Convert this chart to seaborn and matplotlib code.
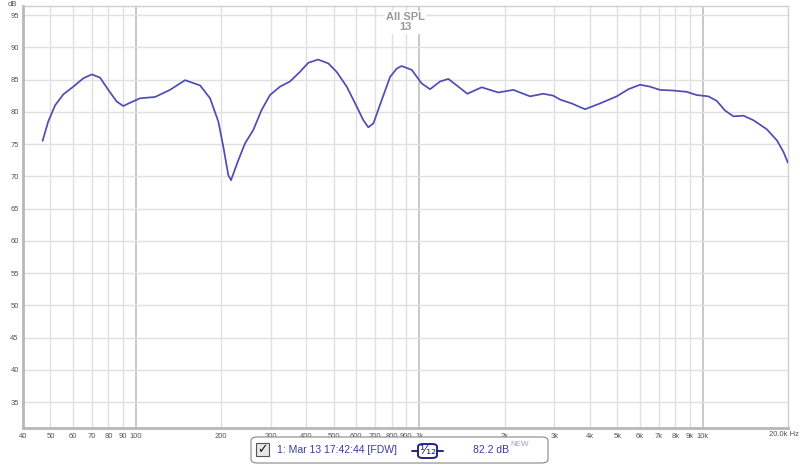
import numpy as np
import pandas as pd
import matplotlib
matplotlib.use("Agg")
import matplotlib.pyplot as plt
import seaborn as sns
from matplotlib.patches import FancyBboxPatch, Rectangle

# SPL curve
freq_hz = [46.9, 49.1, 51.9, 55.5, 60.2, 65.3, 69.9, 74.8, 80.0, 85.6, 90.3, 95.4,
           103.5, 116.9, 132, 149.2, 168.5, 182.8, 195.5, 203.6, 212, 216.7, 230,
           242.8, 259.8, 278, 297.5, 322.7, 350, 379.6, 406, 440, 478, 511, 555, 602,
           635, 661, 689, 737, 789, 833, 867, 941, 1020, 1092, 1184, 1267, 1374, 1478,
           1661, 1901, 2148, 2460, 2740, 2972, 3139, 3450, 3845, 4344, 4976, 5467,
           6011, 6520, 7071, 7880, 8785, 9527, 10470, 11210, 11990, 12830, 13920,
           15100, 16830, 18260, 19270, 19990]
spl_db = [75.5, 78.5, 81.0, 82.7, 83.9, 85.2, 85.8, 85.3, 83.4, 81.6, 80.9, 81.4,
          82.1, 82.3, 83.4, 84.9, 84.1, 82.1, 78.5, 74.6, 70.2, 69.4, 72.5,
          75.1, 77.2, 80.3, 82.6, 83.9, 84.7, 86.2, 87.6, 88.1, 87.5, 86.2, 83.9, 80.8,
          78.7, 77.6, 78.2, 81.8, 85.4, 86.7, 87.1, 86.5, 84.4, 83.5, 84.7, 85.1, 83.9, 82.8,
          83.8, 83.0, 83.4, 82.4, 82.8, 82.5, 81.9, 81.3, 80.4, 81.3, 82.4, 83.5,
          84.2, 83.9, 83.4, 83.3, 83.1, 82.6, 82.4, 81.7, 80.2, 79.3, 79.4,
          78.7, 77.3, 75.6, 73.8, 72.1]

xticks = [40, 50, 60, 70, 80, 90, 100, 200, 300, 400, 500, 600, 700, 800, 900,
          1000, 2000, 3000, 4000, 5000, 6000, 7000, 8000, 9000, 10000, 20000]
xtick_labels = ["40", "50", "60", "70", "80", "90", "100", "200", "300", "400", "500",
                "600", "700", "800", "900", "1k", "2k", "3k", "4k", "5k", "6k", "7k",
                "8k", "9k", "10k", ""]
yticks = list(range(35, 100, 5))

df = pd.DataFrame({"freq": freq_hz, "spl": spl_db})

sns.set_style("white")
plt.rcParams["font.family"] = ["Liberation Sans", "DejaVu Sans"]
fig = plt.figure(figsize=(8, 4.66), dpi=100)
ax = fig.add_axes([23 / 800, 1 - 428 / 466, 765 / 800, 422 / 466])

# grid first so the curve sits on top
for f in xticks:
    if f in (100, 1000, 10000):
        ax.axvline(f, color="#c4c4c4", lw=1.3, zorder=1)
    elif f not in (40, 20000):
        ax.axvline(f, color="#e0e0e0", lw=1.0, zorder=1)
for y in yticks:
    ax.axhline(y, color="#e0e0e0", lw=1.0, zorder=1)

sns.lineplot(data=df, x="freq", y="spl", color="#4d4db5", lw=1.25, ax=ax, zorder=3)

ax.set_xscale("log")
ax.set_xlim(40, 20000)
ax.set_ylim(31.0, 96.4)
ax.set_xticks(xticks)
ax.set_xticklabels(xtick_labels)
ax.minorticks_off()
ax.set_yticks(yticks)
ax.set_yticklabels([str(v) for v in yticks])
ax.tick_params(axis="both", length=0, labelsize=5.5, labelcolor="#555555")
ax.tick_params(axis="x", pad=3.5)
ax.tick_params(axis="y", pad=3)
ax.set_xlabel("")
ax.set_ylabel("")

for side in ["top", "right"]:
    ax.spines[side].set_color("#d0d0d0")
    ax.spines[side].set_linewidth(1.0)
for side in ["left", "bottom"]:
    ax.spines[side].set_color("#b8b8b8")
    ax.spines[side].set_linewidth(2.0)

fig.text(799 / 800, 1 - 435 / 466, "20.0k Hz", ha="right", va="center", fontsize=5.5,
         color="#555555")

# title in the plot, REW style
ax.text(0.5, 0.985, "All SPL\n13", transform=ax.transAxes, ha="center", va="top",
        fontsize=8, fontweight="bold", color="#999999", linespacing=1.0,
        bbox=dict(facecolor="white", edgecolor="none", pad=1.0), zorder=4)
fig.text(12 / 800, 1 - 0.5 / 466, "dB", ha="center", va="top", fontsize=5.5,
         color="#555555")

# legend strip at the bottom
fig.patches.append(FancyBboxPatch((251 / 800, 1 - 463 / 466), 297 / 800, 26 / 466,
                                  boxstyle="round,pad=0,rounding_size=0.008",
                                  transform=fig.transFigure, facecolor="white",
                                  edgecolor="#888888", lw=0.8))
fig.patches.append(Rectangle((256 / 800, 1 - 456 / 466), 13 / 800, 13 / 466,
                             transform=fig.transFigure, facecolor="#e6e6e6",
                             edgecolor="#555555", lw=0.8))
fig.text(262.5 / 800, 1 - 449.5 / 466, "\u2713", ha="center", va="center",
         fontsize=9, fontweight="bold", color="#111111", family="DejaVu Sans")
fig.text(277 / 800, 1 - 450 / 466, "1: Mar 13 17:42:44 [FDW]", ha="left", va="center",
         fontsize=7.5, color="#3a3aa8")
fig.patches.append(FancyBboxPatch((418 / 800, 1 - 458 / 466), 19 / 800, 14 / 466,
                                  boxstyle="round,pad=0,rounding_size=0.006",
                                  transform=fig.transFigure, facecolor="white",
                                  edgecolor="#22228a", lw=1.4))
fig.lines.append(plt.Line2D([412 / 800, 418 / 800], [1 - 451 / 466] * 2,
                            transform=fig.transFigure, color="#22228a", lw=1.4))
fig.lines.append(plt.Line2D([437 / 800, 443 / 800], [1 - 451 / 466] * 2,
                            transform=fig.transFigure, color="#22228a", lw=1.4))
fig.text(427.5 / 800, 1 - 451 / 466, "\u00b9\u2044\u2081\u2082", ha="center", va="center",
         fontsize=9, color="#22228a", family="DejaVu Sans")
fig.text(473 / 800, 1 - 450 / 466, "82.2 dB", ha="left", va="center",
         fontsize=7.5, color="#3a3aa8")
fig.text(510 / 800, 1 - 445 / 466, "NEW", ha="left", va="center",
         fontsize=5.8, color="#9a9ad8")

fig.savefig("out.png", dpi=100)
